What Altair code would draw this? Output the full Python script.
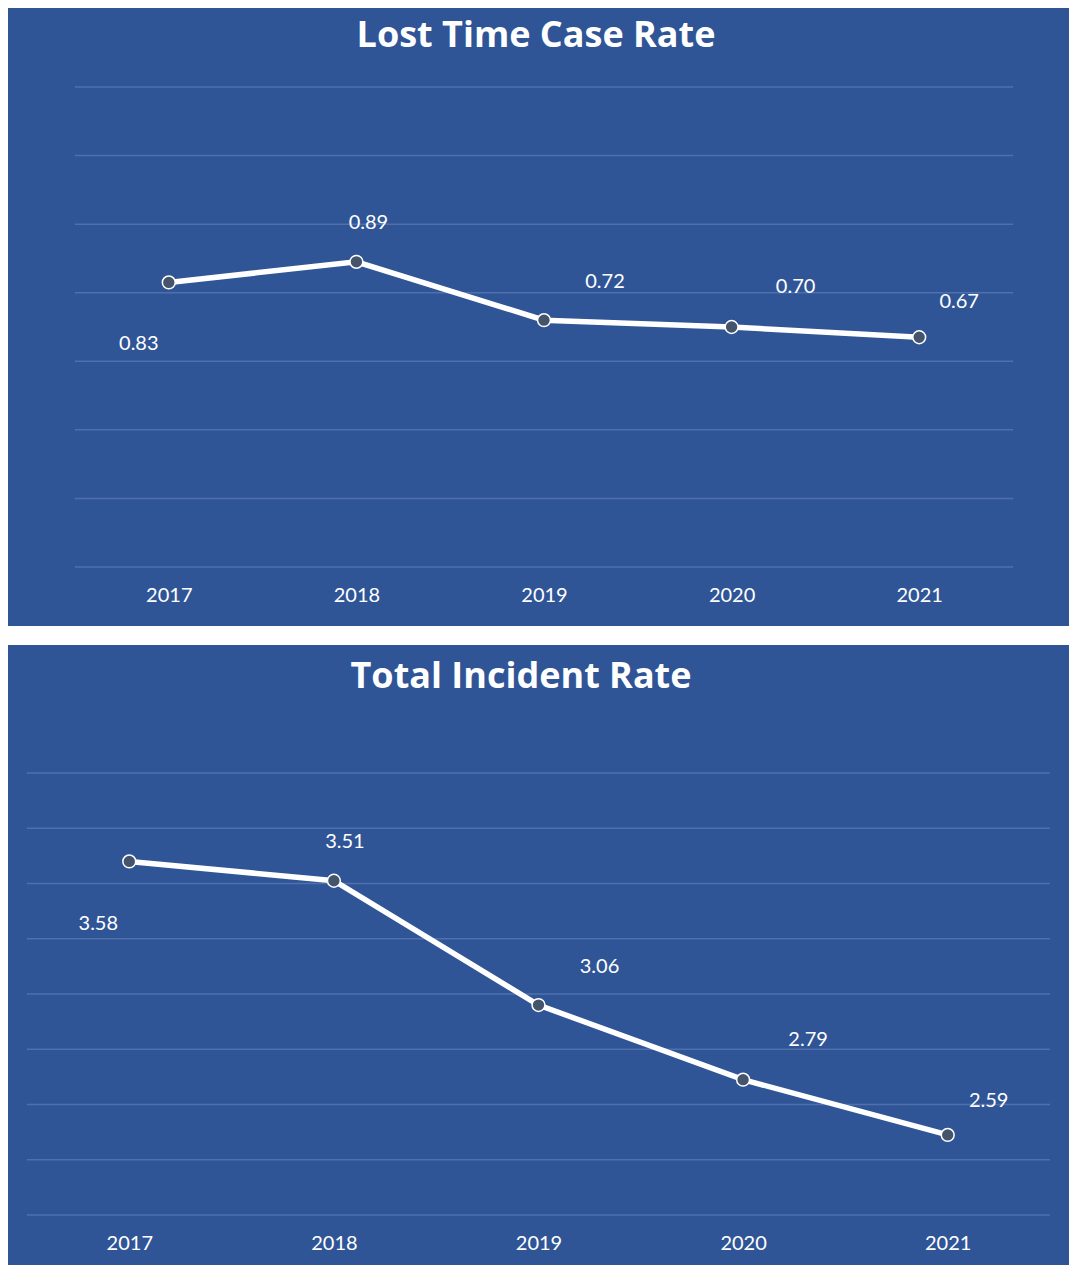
import altair as alt
import pandas as pd

years = ["2017", "2018", "2019", "2020", "2021"]
lost_time = [0.83, 0.89, 0.72, 0.70, 0.67]
incident = [3.58, 3.51, 3.06, 2.79, 2.59]
lost_time_grid = [0.0, 0.2, 0.4, 0.6, 0.8, 1.0, 1.2, 1.4]
incident_grid = [2.3, 2.5, 2.7, 2.9, 3.1, 3.3, 3.5, 3.7, 3.9]
titles = ["Lost Time Case Rate", "Total Incident Rate"]

BG = "#2F5597"
GRID = "#4F70AC"
POINT = "#44546A"
W = 1023


def panel(title, values, grid, domain, h, xrange, rect, tpos, dxs, dys):
    df = pd.DataFrame({"year": years, "value": values})
    yscale = alt.Scale(domain=domain, nice=False, zero=False)
    xaxis = alt.Axis(labelAngle=0, labelColor="white", labelFont="Lato", labelFontSize=20,
                     ticks=False, tickSize=0, domain=False, grid=False, title=None,
                     labelPadding=28, labelBaseline="middle", zindex=1)
    x = alt.X("year:O", scale=alt.Scale(type="point", padding=0.5, range=list(xrange)),
              axis=xaxis, sort=years)
    y = alt.Y("value:Q", scale=yscale, axis=None)

    bg = alt.Chart(alt.Data(values=[{}])).mark_rect(color=BG).encode(
        x=alt.value(rect[0]), x2=alt.value(rect[1]), y=alt.value(rect[2]), y2=alt.value(rect[3]))
    gridl = alt.Chart(pd.DataFrame({"value": grid})).mark_rule(color=GRID, strokeWidth=1.5).encode(
        y=alt.Y("value:Q", scale=yscale, axis=None),
        x=alt.value(xrange[0]), x2=alt.value(xrange[1]))
    line = alt.Chart(df).mark_line(color="white", strokeWidth=5.5).encode(x=x, y=y)
    pts = alt.Chart(df).mark_point(filled=True, fill=POINT, stroke="white", strokeWidth=1.5,
                                   size=165, opacity=1, shape="circle").encode(x=x, y=y)
    ttl = alt.Chart(alt.Data(values=[{"t": title}])).mark_text(
        font="Open Sans", fontSize=36, fontWeight="bold", color="white",
        align="center", baseline="alphabetic").encode(
        x=alt.value(tpos[0]), y=alt.value(tpos[1]), text="t:N")
    labels = []
    for yr, dx, dy in zip(years, dxs, dys):
        labels.append(
            alt.Chart(df).transform_filter(alt.datum.year == yr).mark_text(
                font="Lato", fontSize=20, color="white", align="center", baseline="middle",
                dx=dx, dy=dy).encode(x=x, y=y, text=alt.Text("value:Q", format=".2f")))
    return alt.layer(bg, gridl, line, pts, ttl, *labels).properties(width=W, height=h)


top = panel(titles[0], lost_time, lost_time_grid, [0, 1.4], 480,
            (48, 986), (-19, 1042, -79, 539), (509, -40),
            [-30, 12, 61, 64, 40], [62, -39, -38, -40, -35])
bottom = panel(titles[1], incident, incident_grid, [2.3, 3.9], 442,
               (0, W), (-19, 1042, -128, 492), (494, -85),
               [-31, 11, 61, 65, 41], [63, -39, -38, -40, -34])

chart = alt.vconcat(top, bottom, spacing=206, bounds="flush").properties(
    padding=0, background="white").configure_view(strokeWidth=0)

chart.save("out.html", embed_options={"renderer": "svg", "actions": False})
